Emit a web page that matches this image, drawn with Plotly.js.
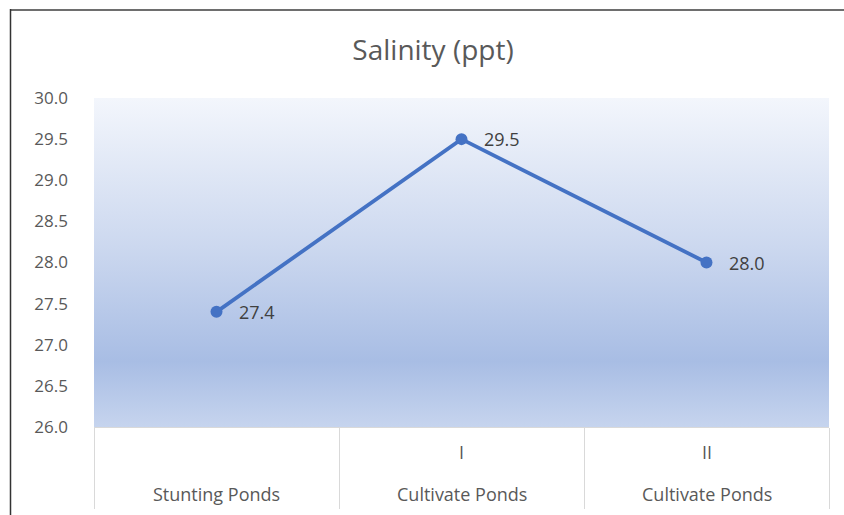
<!DOCTYPE html>
<html>
<head>
<meta charset="utf-8">
<script src="https://cdn.plot.ly/plotly-3.0.1.min.js"></script>
<style>html,body{margin:0;padding:0;background:#fff;}#chart{width:844px;height:515px;}</style>
</head>
<body>
<div id="chart"></div>
<script>
const groups = ['Stunting Ponds', 'Cultivate Ponds', 'Cultivate Ponds'];
const subs = ['', 'I', 'II'];
const salinity = [27.4, 29.5, 28.0];
const yTicks = [26.0, 26.5, 27.0, 27.5, 28.0, 28.5, 29.0, 29.5, 30.0];
const titleText = 'Salinity (ppt)';

const categories = groups.map((g, i) => (subs[i] ? subs[i] + ' ' : '') + g);

const W = 844, H = 515;
const M = {l: 94, r: 15, t: 98, b: 88};
const plotW = W - M.l - M.r, plotH = H - M.t - M.b;
const px2x = px => (px - M.l) / plotW;
const py2y = py => (H - M.b - py) / plotH;

const gradSvg = '<svg xmlns="http://www.w3.org/2000/svg" width="100" height="100" preserveAspectRatio="none">' +
  '<defs><linearGradient id="g" x1="0" y1="0" x2="0" y2="1">' +
  '<stop offset="0" stop-color="#F3F6FC"/>' +
  '<stop offset="0.45" stop-color="#CCD8EF"/>' +
  '<stop offset="0.8" stop-color="#A8BDE4"/>' +
  '<stop offset="1" stop-color="#C6D4EE"/>' +
  '</linearGradient></defs><rect width="100" height="100" fill="url(#g)"/></svg>';
const gradUri = 'data:image/svg+xml;base64,' + btoa(gradSvg);

const fontFam = '"Open Sans", Lato, sans-serif';

const trace = {
  type: 'scatter',
  mode: 'lines+markers',
  x: categories,
  y: salinity,
  line: {color: '#4472C4', width: 3.8},
  marker: {color: '#4472C4', size: 12},
  cliponaxis: false,
  hoverinfo: 'skip'
};

const annotations = [];
categories.forEach((c, i) => {
  annotations.push({
    x: c, xref: 'x', y: salinity[i], yref: 'y', text: salinity[i].toFixed(1), showarrow: false,
    font: {family: fontFam, size: 18, color: '#404040'}, xanchor: 'left', yanchor: 'middle',
    xshift: 20, yshift: 0
  });
  if (subs[i]) annotations.push({
    x: c, xref: 'x', y: py2y(452), yref: 'paper', text: subs[i], showarrow: false,
    font: {family: fontFam, size: 18, color: '#595959'}, xanchor: 'center', yanchor: 'middle'
  });
  annotations.push({
    x: c, xref: 'x', y: py2y(494), yref: 'paper', text: groups[i], showarrow: false,
    font: {family: fontFam, size: 18, color: '#595959'}, xanchor: 'center', yanchor: 'middle'
  });
});

const layout = {
  width: W, height: H,
  margin: M,
  paper_bgcolor: '#ffffff',
  plot_bgcolor: 'rgba(0,0,0,0)',
  showlegend: false,
  title: {
    text: titleText,
    x: 433 / W, xanchor: 'center', xref: 'container',
    y: 1 - 50 / H, yanchor: 'middle', yref: 'container',
    font: {family: fontFam, size: 28, color: '#595959'}
  },
  xaxis: {
    type: 'category',
    range: [-0.5, categories.length - 0.5],
    showticklabels: false,
    tickson: 'boundaries',
    ticks: 'outside',
    ticklen: 81,
    tickcolor: '#D9D9D9',
    tickwidth: 1,
    showgrid: false,
    showline: true,
    linecolor: '#D9D9D9',
    linewidth: 1,
    zeroline: false,
    fixedrange: true
  },
  yaxis: {
    range: [26, 30],
    tickvals: yTicks,
    ticktext: yTicks.map(v => v.toFixed(1)),
    showgrid: false,
    zeroline: false,
    showline: false,
    ticks: '',
    ticklabelstandoff: 25,
    tickfont: {family: fontFam, size: 17, color: '#595959'},
    fixedrange: true
  },
  images: [{
    source: gradUri, xref: 'paper', yref: 'paper', x: 0, y: 1, sizex: 1, sizey: 1,
    xanchor: 'left', yanchor: 'top', sizing: 'stretch', layer: 'below'
  }],
  shapes: [
    {type: 'line', xref: 'paper', yref: 'paper', x0: px2x(10.5), x1: px2x(844), y0: py2y(10), y1: py2y(10),
     line: {color: '#6E6E6E', width: 2}},
    {type: 'line', xref: 'paper', yref: 'paper', x0: px2x(10.5), x1: px2x(10.5), y0: py2y(9), y1: py2y(515),
     line: {color: '#333333', width: 1.5}}
  ],
  annotations: annotations
};

Plotly.newPlot('chart', [trace], layout, {displayModeBar: false, staticPlot: true});
</script>
</body>
</html>
